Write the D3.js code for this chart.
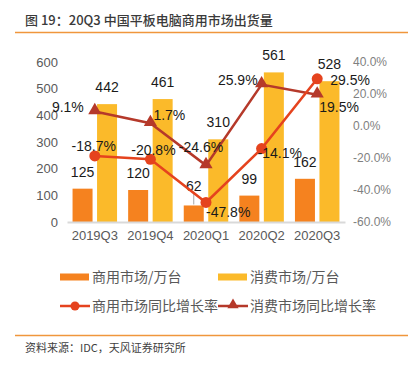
<!DOCTYPE html>
<html><head><meta charset="utf-8">
<script src="https://cdn.jsdelivr.net/npm/d3@7"></script>
<style>
html,body{margin:0;padding:0;background:#fff;}
svg{display:block;}
</style></head>
<body>
<script>
// ---- data ----
const categories = ["2019Q3","2019Q4","2020Q1","2020Q2","2020Q3"];
const commercialUnits = [125,120,62,99,162];      // 商用市场/万台
const consumerUnits = [442,461,310,561,528];      // 消费市场/万台
const commercialYoY = [-18.7,-20.8,-47.8,-14.1,29.5]; // 商用市场同比增长率 %
const consumerYoY = [9.1,1.7,-24.6,25.9,19.5];        // 消费市场同比增长率 %
const leftTicks = [0,100,200,300,400,500,600];
const rightTicks = [-60,-40,-20,0,20,40];
const seriesNames = ["商用市场/万台","消费市场/万台","商用市场同比增长率","消费市场同比增长率"];
const titleText = "图 19：20Q3 中国平板电脑商用市场出货量";
const sourceText = "资料来源：IDC，天风证券研究所";

// label placement (dx, dy of text centre relative to point, anchor)
const commLabelPos = [[-1,-10,"middle"],[3,-9,"middle"],[0,10,"start"],[-4,4,"start"],[13,1,"start"]];
const consLabelPos = [[-11,-4,"end"],[3,-8,"start"],[-5,-18,"middle"],[-4,-5,"end"],[2,12,"start"]];

const W=412,H=367;
const C_ORANGE="#F5821F", C_YELLOW="#FBBA2A", C_COMM="#E5431E", C_CONS="#B5392A", C_ACCENT="#F0963C";
const numFont="'Liberation Sans', Arial, sans-serif";
const cjkFont="'Noto Sans CJK SC', 'Noto Sans', sans-serif";

const svg=d3.select("body").append("svg").attr("width",W).attr("height",H);

// title + rules
svg.append("text").attr("x",25).attr("y",25).attr("font-family",cjkFont).attr("font-size",13)
  .attr("font-weight",500).attr("fill","#3a3a3a").text(titleText);
svg.append("line").attr("x1",15).attr("x2",408).attr("y1",32.5).attr("y2",32.5).attr("stroke",C_ACCENT).attr("stroke-width",1.3);
svg.append("line").attr("x1",15).attr("x2",408).attr("y1",335.5).attr("y2",335.5).attr("stroke",C_ACCENT).attr("stroke-width",1.3);
svg.append("text").attr("x",25).attr("y",352).attr("font-family",cjkFont).attr("font-size",11)
  .attr("fill","#404040").text(sourceText);

// scales
const x=d3.scaleBand().domain(categories).range([67,345]);
const yL=d3.scaleLinear().domain([0,600]).range([222,62]);
const yR=d3.scaleLinear().domain([-60,40]).range([222,62]);
const barW=20, gap=4.5;

// left axis
const axL=svg.append("g").attr("transform","translate(58,0)")
  .call(d3.axisLeft(yL).tickValues(leftTicks).tickSize(0).tickPadding(0));
axL.select(".domain").remove();
axL.selectAll("text").attr("font-family",numFont).attr("font-size",13).attr("fill","#595959");

// right axis
const axR=svg.append("g").attr("transform","translate(353,0)")
  .call(d3.axisRight(yR).tickValues(rightTicks).tickSize(0).tickPadding(0).tickFormat(d=>d.toFixed(1)+"%"));
axR.select(".domain").remove();
axR.selectAll("text").attr("font-family",numFont).attr("font-size",12).attr("fill","#7f7f7f");

// bars
const cx=d=>x(d)+x.bandwidth()/2;
svg.append("g").selectAll("rect").data(categories).join("rect")
  .attr("x",(d)=>cx(d)-gap/2-barW).attr("width",barW)
  .attr("y",(d,i)=>yL(commercialUnits[i])).attr("height",(d,i)=>yL(0)-yL(commercialUnits[i]))
  .attr("fill",C_ORANGE);
svg.append("g").selectAll("rect").data(categories).join("rect")
  .attr("x",(d)=>cx(d)+gap/2).attr("width",barW)
  .attr("y",(d,i)=>yL(consumerUnits[i])).attr("height",(d,i)=>yL(0)-yL(consumerUnits[i]))
  .attr("fill",C_YELLOW);

// x axis baseline
const axX=svg.append("g").attr("transform","translate(0,222)")
  .call(d3.axisBottom(x).tickSize(0).tickPadding(9));
axX.select(".domain").attr("stroke","#d9d9d9").attr("stroke-width",2);
axX.selectAll("text").attr("font-family",numFont).attr("font-size",13).attr("fill","#595959");

// bar value labels
const lblOpts=(sel)=>sel.attr("font-family",numFont).attr("font-size",14).attr("fill","#1a1a1a").attr("text-anchor","middle");
// leader line for small bar label
svg.append("line").attr("x1",cx(categories[2])-gap/2-barW/2).attr("x2",cx(categories[2])-gap/2-barW/2)
  .attr("y1",yL(commercialUnits[2])-13).attr("y2",yL(commercialUnits[2])-1).attr("stroke","#a6a6a6").attr("stroke-width",1);
svg.append("g").selectAll("text").data(categories).join("text")
  .attr("x",d=>cx(d)-gap/2-barW/2)
  .attr("y",(d,i)=>yL(commercialUnits[i])-(i===2?14:12))
  .call(lblOpts).text((d,i)=>commercialUnits[i]);
svg.append("g").selectAll("text").data(categories).join("text")
  .attr("x",d=>cx(d)+gap/2+barW/2)
  .attr("y",(d,i)=>yL(consumerUnits[i])-12)
  .call(lblOpts).text((d,i)=>consumerUnits[i]);

// lines
const triangle=d3.symbol().type(d3.symbolTriangle).size(75);
function drawLine(vals,color,marker){
  const line=d3.line().x((d,i)=>cx(categories[i])).y(d=>yR(d));
  svg.append("path").datum(vals).attr("d",line).attr("fill","none").attr("stroke",color).attr("stroke-width",2.5);
  const g=svg.append("g");
  vals.forEach((v,i)=>{
    if(marker==="circle") g.append("circle").attr("cx",cx(categories[i])).attr("cy",yR(v)).attr("r",5.5).attr("fill",color);
    else g.append("path").attr("d",triangle).attr("transform",`translate(${cx(categories[i])},${yR(v)-1})`).attr("fill",color);
  });
}
drawLine(consumerYoY,C_CONS,"triangle");
drawLine(commercialYoY,C_COMM,"circle");

// percent labels
function pctLabels(vals,pos){
  svg.append("g").selectAll("text").data(vals).join("text")
    .attr("x",(d,i)=>cx(categories[i])+pos[i][0])
    .attr("y",(d,i)=>yR(d)+pos[i][1]+5)
    .attr("text-anchor",(d,i)=>pos[i][2])
    .attr("font-family",numFont).attr("font-size",14).attr("fill","#1a1a1a")
    .text(d=>d.toFixed(1)+"%");
}
pctLabels(consumerYoY,consLabelPos);
pctLabels(commercialYoY,commLabelPos);

// legend
const lg=svg.append("g").attr("font-family",cjkFont).attr("font-size",14).attr("fill","#595959");
const legendItems=[
  {x:60,y:277,type:"rect",color:C_ORANGE,name:seriesNames[0]},
  {x:218,y:277,type:"rect",color:C_YELLOW,name:seriesNames[1]},
  {x:60,y:306,type:"circle",color:C_COMM,name:seriesNames[2]},
  {x:218,y:306,type:"triangle",color:C_CONS,name:seriesNames[3]}
];
legendItems.forEach(it=>{
  if(it.type==="rect"){
    lg.append("rect").attr("x",it.x).attr("y",it.y-3.5).attr("width",29).attr("height",7).attr("fill",it.color);
  } else {
    lg.append("line").attr("x1",it.x).attr("x2",it.x+30).attr("y1",it.y).attr("y2",it.y).attr("stroke",it.color).attr("stroke-width",2.5);
    if(it.type==="circle") lg.append("circle").attr("cx",it.x+15).attr("cy",it.y).attr("r",4.5).attr("fill",it.color);
    else lg.append("path").attr("d",d3.symbol().type(d3.symbolTriangle).size(55)).attr("transform",`translate(${it.x+15},${it.y-1})`).attr("fill",it.color);
  }
  lg.append("text").attr("x",it.x+32).attr("y",it.y+5).text(it.name);
});
</script>
</body></html>
